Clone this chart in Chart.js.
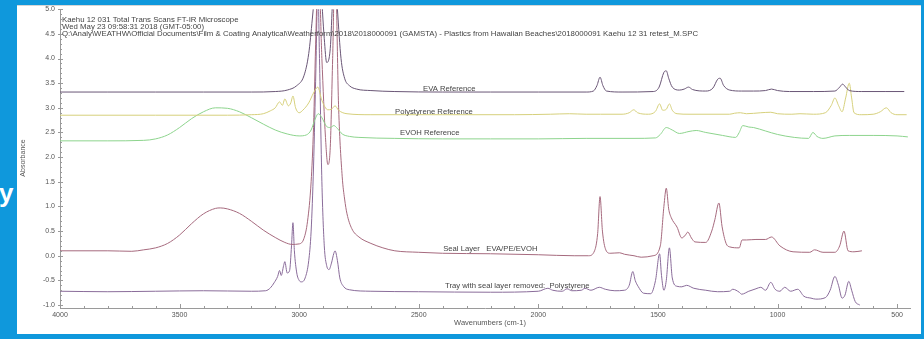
<!DOCTYPE html>
<html>
<head>
<meta charset="utf-8">
<script src="https://cdn.jsdelivr.net/npm/chart.js@4"></script>
<style>
  html, body { margin: 0; padding: 0; }
  body { width: 924px; height: 339px; background: #0f98dc; position: relative; overflow: hidden; }
  #panel { position: absolute; left: 17px; top: 5px; width: 904px; height: 329px; background: #fff; border-top: 1px solid #d6d6d6; box-sizing: border-box; }
  #cut { position: absolute; left: -1px; top: 180px; color: #fff; font: bold 26px "Liberation Sans", Arial, sans-serif; line-height: 26px; }
  #wrap { position: absolute; left: 0; top: 0; width: 924px; height: 339px; }
</style>
</head>
<body>
<div id="panel"></div>
<div id="cut">y</div>
<div id="wrap"><canvas id="ir" width="924" height="339"></canvas></div>
<script>
/* ─── axis ticks ─── */
const X_TICKS = [4000, 3500, 3000, 2500, 2000, 1500, 1000, 500];
const Y_TICKS = [-1.0, -0.5, 0.0, 0.5, 1.0, 1.5, 2.0, 2.5, 3.0, 3.5, 4.0, 4.5, 5.0];

/* ─── spectra (wavenumber cm-1 / absorbance) ─── */
const EVA_WN = [4000, 3800, 3600, 3400, 3200, 3100, 3050, 3010, 2980, 2960, 2945, 2930, 2920, 2910, 2895, 2885, 2870, 2860, 2850, 2840, 2825, 2810, 2790, 2760, 2700, 2600, 2400, 2200, 2000, 1800, 1770, 1755, 1742, 1730, 1715, 1650, 1520, 1495, 1475, 1465, 1455, 1440, 1410, 1390, 1372, 1355, 1300, 1270, 1250, 1240, 1225, 1200, 1150, 1100, 1050, 1025, 1000, 950, 850, 760, 740, 728, 715, 700, 650, 550, 470];
const EVA_ABS = [3.32, 3.32, 3.32, 3.32, 3.32, 3.33, 3.36, 3.45, 3.65, 4.1, 4.8, 5.6, 6.0, 5.5, 4.4, 3.92, 4.2, 5.2, 5.8, 5.0, 4.0, 3.6, 3.45, 3.38, 3.35, 3.33, 3.32, 3.32, 3.32, 3.32, 3.34, 3.45, 3.62, 3.45, 3.34, 3.32, 3.33, 3.42, 3.72, 3.75, 3.6, 3.42, 3.36, 3.38, 3.42, 3.37, 3.34, 3.4, 3.58, 3.6, 3.45, 3.36, 3.34, 3.34, 3.35, 3.38, 3.35, 3.33, 3.33, 3.34, 3.42, 3.48, 3.42, 3.35, 3.33, 3.33, 3.33];

const PS_WN = [4000, 3600, 3300, 3200, 3150, 3120, 3100, 3082, 3070, 3060, 3045, 3035, 3026, 3015, 3000, 2985, 2960, 2940, 2922, 2905, 2880, 2865, 2850, 2835, 2800, 2700, 2400, 2100, 1950, 1870, 1800, 1740, 1650, 1620, 1601, 1585, 1540, 1510, 1493, 1480, 1465, 1452, 1440, 1420, 1370, 1200, 1180, 1155, 1130, 1070, 1028, 1000, 940, 906, 850, 800, 775, 760, 745, 730, 715, 700, 690, 680, 650, 600, 570, 545, 525, 500, 460];
const PS_ABS = [2.85, 2.85, 2.85, 2.86, 2.88, 2.94, 3.0, 3.12, 3.05, 3.18, 3.04, 3.1, 3.24, 3.0, 2.9, 2.95, 3.1, 3.3, 3.42, 3.15, 2.96, 2.97, 3.04, 2.95, 2.88, 2.86, 2.86, 2.86, 2.87, 2.88, 2.87, 2.87, 2.87, 2.9, 2.96, 2.9, 2.87, 2.93, 3.08, 2.95, 2.97, 3.08, 2.95, 2.88, 2.87, 2.87, 2.89, 2.9, 2.88, 2.9, 2.91, 2.88, 2.87, 2.88, 2.87, 2.9, 3.05, 3.2, 3.05, 2.92, 3.2, 3.5, 3.2, 2.9, 2.86, 2.87, 2.92, 3.0, 2.9, 2.86, 2.86];

const EVOH_WN = [4000, 3800, 3650, 3600, 3550, 3500, 3450, 3400, 3350, 3300, 3250, 3200, 3150, 3100, 3050, 3000, 2970, 2950, 2935, 2920, 2905, 2885, 2870, 2855, 2840, 2820, 2790, 2750, 2600, 2400, 2200, 2000, 1800, 1600, 1510, 1490, 1465, 1440, 1410, 1370, 1340, 1300, 1230, 1175, 1160, 1145, 1120, 1100, 1050, 1000, 930, 870, 852, 835, 810, 760, 700, 600, 500, 455];
const EVOH_ABS = [2.33, 2.33, 2.34, 2.37, 2.45, 2.6, 2.78, 2.92, 3.0, 2.99, 2.92, 2.8, 2.67, 2.55, 2.47, 2.43, 2.45, 2.55, 2.75, 2.88, 2.8, 2.62, 2.6, 2.64, 2.58, 2.47, 2.42, 2.4, 2.38, 2.37, 2.37, 2.37, 2.38, 2.38, 2.39, 2.46, 2.6, 2.55, 2.48, 2.52, 2.54, 2.5, 2.44, 2.4, 2.5, 2.64, 2.61, 2.6, 2.53, 2.46, 2.4, 2.38, 2.5, 2.42, 2.38, 2.43, 2.44, 2.44, 2.43, 2.41];

const SEAL_WN = [4000, 3800, 3700, 3650, 3600, 3550, 3500, 3450, 3400, 3350, 3330, 3300, 3250, 3200, 3150, 3100, 3060, 3030, 3000, 2980, 2965, 2950, 2940, 2930, 2920, 2905, 2890, 2880, 2870, 2860, 2850, 2835, 2820, 2810, 2800, 2780, 2750, 2700, 2650, 2600, 2500, 2400, 2200, 2000, 1850, 1790, 1765, 1752, 1742, 1732, 1718, 1700, 1660, 1640, 1600, 1570, 1520, 1490, 1475, 1465, 1455, 1445, 1420, 1400, 1385, 1375, 1360, 1345, 1300, 1275, 1262, 1245, 1232, 1215, 1200, 1160, 1148, 1130, 1090, 1050, 1025, 990, 935, 865, 845, 810, 760, 740, 722, 705, 680, 647];
const SEAL_ABS = [0.1, 0.1, 0.09, 0.12, 0.16, 0.25, 0.42, 0.65, 0.85, 0.96, 0.97, 0.95, 0.86, 0.7, 0.52, 0.37, 0.27, 0.23, 0.24, 0.35, 0.7, 1.5, 2.6, 4.5, 6.0, 4.0, 2.4, 1.85, 2.2, 4.0, 6.0, 3.0, 1.6, 1.15, 0.85, 0.55, 0.38, 0.25, 0.16, 0.1, 0.07, 0.05, 0.04, 0.02, 0.0, 0.0, 0.1, 0.45, 1.2, 0.5, 0.12, 0.05, 0.06, 0.03, 0.0, -0.03, 0.0, 0.2, 1.0, 1.37, 0.95, 0.78, 0.58, 0.36, 0.42, 0.48, 0.36, 0.28, 0.27, 0.5, 0.73, 1.07, 0.6, 0.25, 0.18, 0.16, 0.32, 0.32, 0.33, 0.33, 0.38, 0.2, 0.08, 0.07, 0.12, 0.07, 0.07, 0.2, 0.5, 0.1, 0.08, 0.1];

const TRAY_WN = [4000, 3800, 3600, 3400, 3200, 3140, 3120, 3105, 3090, 3082, 3075, 3065, 3060, 3050, 3040, 3032, 3026, 3020, 3010, 3000, 2990, 2975, 2960, 2950, 2940, 2930, 2922, 2915, 2905, 2895, 2885, 2875, 2865, 2855, 2850, 2840, 2830, 2815, 2790, 2700, 2500, 2200, 2000, 1960, 1940, 1900, 1880, 1860, 1820, 1805, 1780, 1745, 1720, 1680, 1640, 1620, 1605, 1595, 1583, 1560, 1530, 1510, 1493, 1485, 1475, 1465, 1452, 1440, 1420, 1400, 1380, 1350, 1300, 1250, 1200, 1187, 1160, 1150, 1120, 1090, 1070, 1050, 1028, 1010, 990, 970, 945, 915, 890, 860, 840, 800, 780, 760, 745, 730, 718, 702, 690, 675, 656];
const TRAY_ABS = [-0.72, -0.73, -0.72, -0.71, -0.72, -0.71, -0.65, -0.55, -0.42, -0.3, -0.4, -0.2, -0.12, -0.35, -0.3, 0.2, 0.67, 0.1, -0.35, -0.5, -0.53, -0.45, -0.1, 0.5, 1.8, 3.8, 5.5, 4.0, 1.5, 0.2, -0.2, -0.28, -0.15, 0.05, 0.1, -0.1, -0.45, -0.62, -0.69, -0.72, -0.73, -0.74, -0.72, -0.66, -0.7, -0.72, -0.67, -0.71, -0.7, -0.66, -0.7, -0.64, -0.68, -0.71, -0.7, -0.6, -0.32, -0.5, -0.62, -0.76, -0.77, -0.5, 0.04, -0.4, -0.7, -0.5, 0.16, -0.45, -0.62, -0.63, -0.6, -0.66, -0.7, -0.73, -0.72, -0.68, -0.74, -0.78, -0.72, -0.67, -0.64, -0.7, -0.54, -0.68, -0.72, -0.64, -0.72, -0.68, -0.82, -0.86, -0.88, -0.85, -0.7, -0.42, -0.6, -0.86, -0.8, -0.52, -0.7, -0.93, -1.0];

/* ─── annotations ─── */
const HEADER = [
    'Kaehu 12 031 Total Trans Scans FT-IR Microscope',
    'Wed May 23 09:58:31 2018 (GMT-05:00)',
    'Q:\\Analy\\WEATHW\\Official Documents\\Film & Coating Analytical\\Weatherform\\2018\\2018000091 (GAMSTA) - Plastics from Hawaiian Beaches\\2018000091 Kaehu 12 31 retest_M.SPC',
];
const LABEL_TEXT = ['EVA Reference', 'Polystyrene Reference', 'EVOH Reference', 'Seal Layer   EVA/PE/EVOH', 'Tray with seal layer removed:  Polystyrene'];
const LABEL_WN = [2482, 2599, 2578, 2398, 2390];
const LABEL_ABS = [3.39, 2.91, 2.5, 0.14, -0.61];

const FONT = '"Liberation Sans", Arial, sans-serif';
const AXIS_COLOR = '#9a9a9a';
const TEXT_COLOR = '#555';

const zip = (wn, ab) => wn.map((w, i) => ({ x: w, y: ab[i] }));

const SERIES = [
    { label: 'EVA Reference', data: zip(EVA_WN, EVA_ABS), color: '#6a5676' },
    { label: 'Polystyrene Reference', data: zip(PS_WN, PS_ABS), color: '#d6d07c' },
    { label: 'EVOH Reference', data: zip(EVOH_WN, EVOH_ABS), color: '#8dd48d' },
    { label: 'Seal Layer', data: zip(SEAL_WN, SEAL_ABS), color: '#a66a7e' },
    { label: 'Tray', data: zip(TRAY_WN, TRAY_ABS), color: '#8a6c9a' },
];

/* ─── minor ticks, header, trace labels, axis titles ─── */
const decor = {
    id: 'decor',
    afterDraw(chart) {
        const { ctx, chartArea: a, scales: { x, y } } = chart;
        ctx.save();
        ctx.strokeStyle = AXIS_COLOR;
        ctx.lineWidth = 1;
        ctx.beginPath();
        for (let w = 500; w <= 4000; w += 100) {
            const px = Math.round(x.getPixelForValue(w)) + 0.5;
            const len = w % 500 === 0 ? 4 : 2;
            ctx.moveTo(px, a.bottom);
            ctx.lineTo(px, a.bottom - len);
        }
        for (let i = -10; i <= 50; i++) {
            const py = Math.round(y.getPixelForValue(i / 10)) + 0.5;
            const major = i % 5 === 0;
            ctx.moveTo(a.left - (major ? 2 : 0), py);
            ctx.lineTo(a.left + (major ? 3 : 2), py);
        }
        ctx.stroke();

        ctx.fillStyle = '#444';
        ctx.font = `7.8px ${FONT}`;
        ctx.textBaseline = 'middle';
        ctx.textAlign = 'left';
        HEADER.forEach((t, i) => ctx.fillText(t, a.left + 2, a.top + 11 + i * 7));

        ctx.font = `7.7px ${FONT}`;
        LABEL_TEXT.forEach((t, i) => {
            ctx.fillText(t, x.getPixelForValue(LABEL_WN[i]), y.getPixelForValue(LABEL_ABS[i]));
        });

        ctx.fillStyle = TEXT_COLOR;
        ctx.textAlign = 'center';
        ctx.font = `7.5px ${FONT}`;
        ctx.fillText('Wavenumbers (cm-1)', (a.left + a.right) / 2 + 5, 323);
        ctx.translate(23, 158);
        ctx.rotate(-Math.PI / 2);
        ctx.font = `7px ${FONT}`;
        ctx.fillText('Absorbance', 0, 0);
        ctx.restore();
    },
};

new Chart(document.getElementById('ir'), {
    type: 'line',
    data: {
        datasets: SERIES.map(s => ({
            label: s.label,
            data: s.data,
            borderColor: s.color,
            backgroundColor: s.color,
            borderWidth: 1,
            pointRadius: 0,
            fill: false,
            cubicInterpolationMode: 'monotone',
        })),
    },
    options: {
        responsive: false,
        animation: false,
        devicePixelRatio: 1,
        layout: { padding: { left: 0, top: 7, right: 14, bottom: 0 } },
        plugins: { legend: { display: false }, tooltip: { enabled: false } },
        scales: {
            x: {
                type: 'linear',
                reverse: true,
                min: 446,
                max: 4000,
                afterBuildTicks: s => { s.ticks = X_TICKS.map(v => ({ value: v })); },
                afterFit: s => { s.height = 31; },
                grid: { display: false, drawTicks: false },
                border: { color: AXIS_COLOR },
                ticks: { font: { family: FONT, size: 7 }, color: TEXT_COLOR, padding: 3, maxRotation: 0, autoSkip: false, callback: v => String(v) },
            },
            y: {
                type: 'linear',
                min: -1.06,
                max: 5.0,
                afterBuildTicks: s => { s.ticks = Y_TICKS.map(v => ({ value: v })); },
                afterFit: s => { s.width = 60; },
                grid: { display: false, drawTicks: false },
                border: { color: AXIS_COLOR },
                ticks: { font: { family: FONT, size: 7 }, color: TEXT_COLOR, padding: 5, callback: v => v.toFixed(1) },
            },
        },
    },
    plugins: [decor],
});
</script>
</body>
</html>
